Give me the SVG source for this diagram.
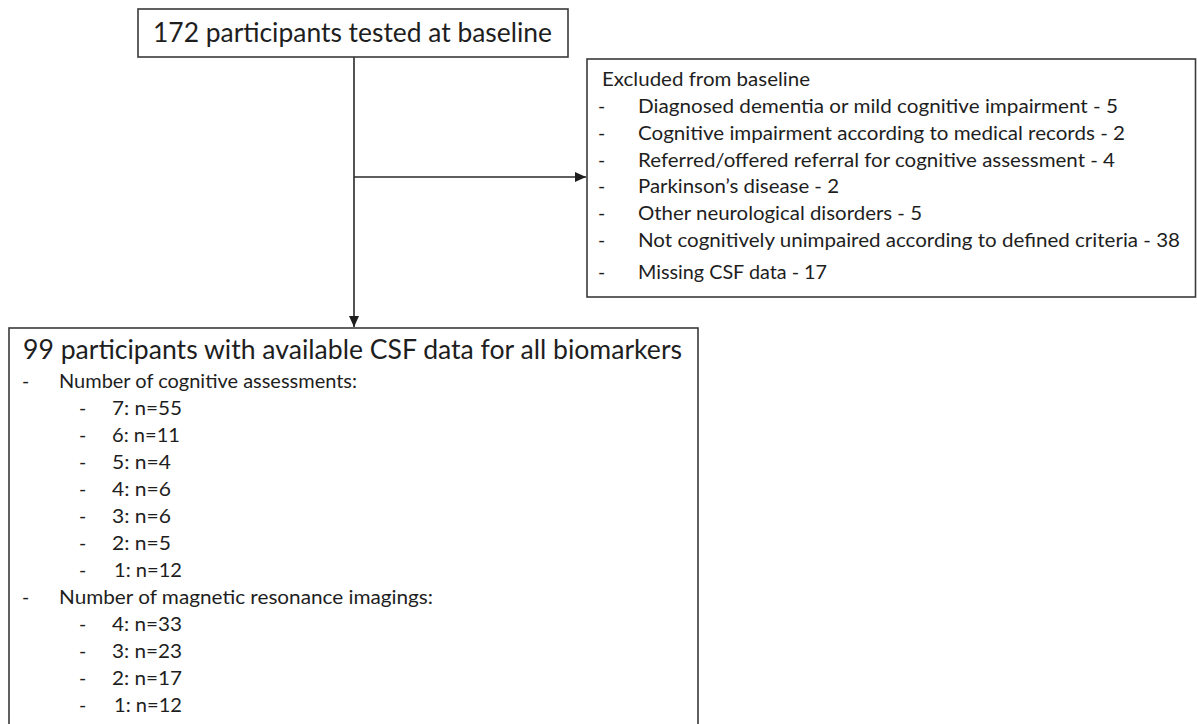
<svg xmlns="http://www.w3.org/2000/svg" width="1197" height="724" viewBox="0 0 1197 724">
<style>
.box{fill:#fff;stroke:#3a3a3a;stroke-width:1.6}
.t{font-family:Lato,"Open Sans","Liberation Sans",sans-serif;fill:#1e1e1e}
.big{font-size:26px}
.sm{font-size:19.5px}
.edge{fill:none;stroke:#2a2a2a;stroke-width:1.6}
</style>
<defs>
<marker id="ah" markerUnits="userSpaceOnUse" markerWidth="12" markerHeight="11" refX="11" refY="5" orient="auto">
<path d="M0,0 L11,5 L0,10 Z" fill="#1e1e1e"/>
</marker>
</defs>
<rect width="1197" height="724" fill="#fff"/>
<g id="connectors">
<line class="edge" x1="354" y1="57" x2="354" y2="327" marker-end="url(#ah)"/>
<line class="edge" x1="354" y1="177" x2="586" y2="177" marker-end="url(#ah)"/>
</g>
<g id="baseline">
<rect class="box" x="138" y="9" width="430" height="48"/>
<text class="t big" x="153" y="42" textLength="399" lengthAdjust="spacingAndGlyphs">172 participants tested at baseline</text>
</g>
<g id="excluded">
<rect class="box" x="587" y="59" width="608.5" height="238"/>
<text class="t sm" x="602" y="86" textLength="208" lengthAdjust="spacingAndGlyphs">Excluded from baseline</text>
<text class="t sm" x="598" y="113">-</text>
<text class="t sm" x="638" y="113" textLength="480" lengthAdjust="spacingAndGlyphs">Diagnosed dementia or mild cognitive impairment - 5</text>
<text class="t sm" x="598" y="140">-</text>
<text class="t sm" x="638" y="140" textLength="487" lengthAdjust="spacingAndGlyphs">Cognitive impairment according to medical records - 2</text>
<text class="t sm" x="598" y="167">-</text>
<text class="t sm" x="638" y="167" textLength="477" lengthAdjust="spacingAndGlyphs">Referred/offered referral for cognitive assessment - 4</text>
<text class="t sm" x="598" y="193">-</text>
<text class="t sm" x="638" y="193" textLength="201" lengthAdjust="spacingAndGlyphs">Parkinson’s disease - 2</text>
<text class="t sm" x="598" y="220">-</text>
<text class="t sm" x="638" y="220" textLength="284" lengthAdjust="spacingAndGlyphs">Other neurological disorders - 5</text>
<text class="t sm" x="598" y="247">-</text>
<text class="t sm" x="638" y="247" textLength="542" lengthAdjust="spacingAndGlyphs">Not cognitively unimpaired according to defined criteria - 38</text>
<text class="t sm" x="598" y="279">-</text>
<text class="t sm" x="638" y="279" textLength="189" lengthAdjust="spacingAndGlyphs">Missing CSF data - 17</text>
</g>
<g id="included">
<rect class="box" x="9" y="328" width="689" height="420"/>
<text class="t big" x="23" y="359" textLength="659" lengthAdjust="spacingAndGlyphs">99 participants with available CSF data for all biomarkers</text>
<text class="t sm" x="22" y="388">-</text>
<text class="t sm" x="59" y="388" textLength="298" lengthAdjust="spacingAndGlyphs">Number of cognitive assessments:</text>
<text class="t sm" x="79" y="415">-</text>
<text class="t sm" x="112" y="415" textLength="70" lengthAdjust="spacingAndGlyphs">7: n=55</text>
<text class="t sm" x="79" y="442">-</text>
<text class="t sm" x="112" y="442" textLength="68" lengthAdjust="spacingAndGlyphs">6: n=11</text>
<text class="t sm" x="79" y="469">-</text>
<text class="t sm" x="112" y="469" textLength="59" lengthAdjust="spacingAndGlyphs">5: n=4</text>
<text class="t sm" x="79" y="496">-</text>
<text class="t sm" x="112" y="496" textLength="59" lengthAdjust="spacingAndGlyphs">4: n=6</text>
<text class="t sm" x="79" y="523">-</text>
<text class="t sm" x="112" y="523" textLength="59" lengthAdjust="spacingAndGlyphs">3: n=6</text>
<text class="t sm" x="79" y="550">-</text>
<text class="t sm" x="112" y="550" textLength="59" lengthAdjust="spacingAndGlyphs">2: n=5</text>
<text class="t sm" x="79" y="577">-</text>
<text class="t sm" x="114" y="577" textLength="68" lengthAdjust="spacingAndGlyphs">1: n=12</text>
<text class="t sm" x="22" y="604">-</text>
<text class="t sm" x="59" y="604" textLength="374" lengthAdjust="spacingAndGlyphs">Number of magnetic resonance imagings:</text>
<text class="t sm" x="79" y="631">-</text>
<text class="t sm" x="112" y="631" textLength="70" lengthAdjust="spacingAndGlyphs">4: n=33</text>
<text class="t sm" x="79" y="658">-</text>
<text class="t sm" x="112" y="658" textLength="70" lengthAdjust="spacingAndGlyphs">3: n=23</text>
<text class="t sm" x="79" y="685">-</text>
<text class="t sm" x="112" y="685" textLength="70" lengthAdjust="spacingAndGlyphs">2: n=17</text>
<text class="t sm" x="79" y="712">-</text>
<text class="t sm" x="114" y="712" textLength="68" lengthAdjust="spacingAndGlyphs">1: n=12</text>
</g>
</svg>
